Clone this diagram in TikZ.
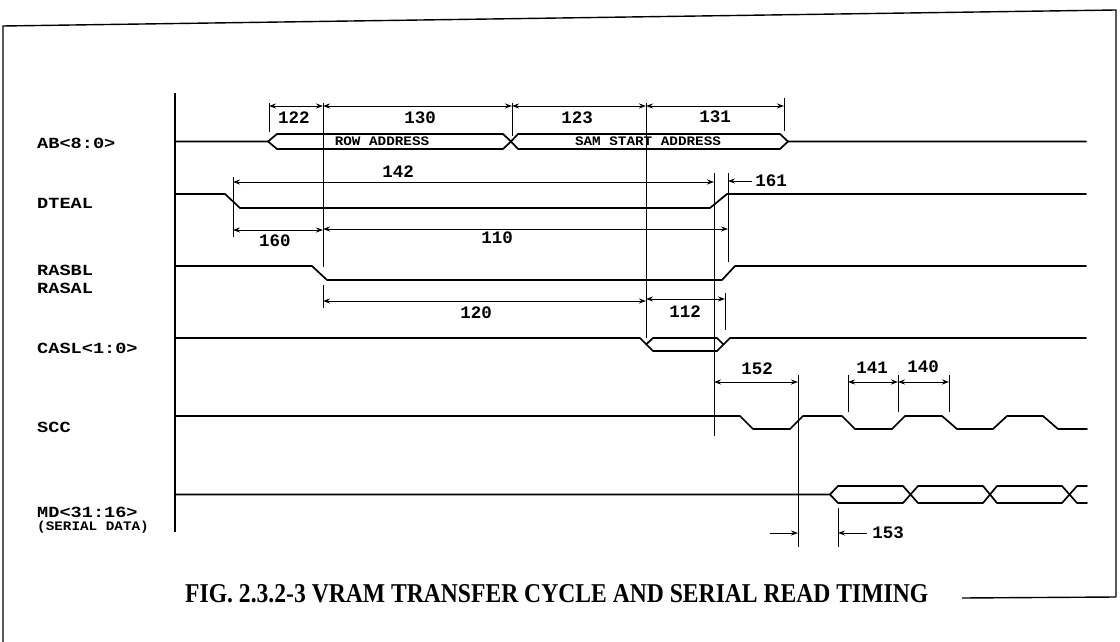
\documentclass[tikz,border=0pt]{standalone}
\usepackage{fontspec}
\usepackage{graphicx}
\usetikzlibrary{arrows.meta}
\setmainfont{Liberation Serif}
\newfontfamily\lblfont[FakeStretch=1.2]{Liberation Mono}
\newfontfamily\smlfont[FakeStretch=1.1]{Liberation Mono}
\newfontfamily\numfont{Liberation Mono}
\begin{document}
\begin{tikzpicture}[x=1pt,y=-1pt,
  sig/.style={line width=1.7pt,line join=round,line cap=round},
  tk/.style={line width=0.9pt},
  dimarr/.style={line width=0.9pt,{Stealth[length=7pt,width=5pt]}-{Stealth[length=7pt,width=5pt]}},
  onearr/.style={line width=0.9pt,-{Stealth[length=7pt,width=5pt]}},
  numtxt/.style={font=\numfont\bfseries\fontsize{17.5}{18}\selectfont,inner sep=0pt},
  lbltxt/.style={font=\lblfont\bfseries\fontsize{15.5}{16}\selectfont,inner sep=0pt,anchor=base west},
  smalltxt/.style={font=\smlfont\bfseries\fontsize{13}{13}\selectfont,inner sep=0pt},
  framestyle/.style={line width=1.4pt}]
\useasboundingbox (0,0) rectangle (1120,642);
% frame
\draw[framestyle] (3,642) -- (3,26) -- (1116,10) -- (1116,597);
\draw[framestyle] (962,598) -- (1116,597);
% axis
\draw[line width=1.3pt] (175,93) -- (175,532);
% signal labels
\node[lbltxt] (lab) at (37,148) {AB<8:0>};
\node[lbltxt] (ldt) at (37,208) {DTEAL};
\node[lbltxt] (lrb) at (37,275) {RASBL};
\node[lbltxt] (lra) at (37,293) {RASAL};
\node[lbltxt] (lca) at (37,353) {CASL<1:0>};
\node[lbltxt] (lsc) at (37,432) {SCC};
\node[lbltxt] (lmd) at (37,517) {MD<31:16>};
\node[smalltxt,anchor=base west] (lsd) at (37,530) {(SERIAL DATA)};
% AB bus
\draw[sig] (175,141.5) -- (268,141.5) -- (277,134) -- (503,134) -- (511,141.5) -- (518,134) -- (780,134) -- (788,141.5) -- (1086,141.5);
\draw[sig] (268,141.5) -- (277,149) -- (503,149) -- (511,141.5) -- (518,149) -- (780,149) -- (788,141.5);
\node[smalltxt] (row) at (382,141.5) {ROW ADDRESS};
\node[smalltxt] (sam) at (648,141) {SAM START ADDRESS};
% DTEAL
\draw[sig] (175,194) -- (225,194) -- (240,208) -- (710,208) -- (727,194) -- (1086,194);
% RASBL / RASAL
\draw[sig] (175,266) -- (312,266) -- (327,280) -- (722,280) -- (735,266) -- (1086,266);
% CASL
\draw[sig] (175,338) -- (640,338) -- (653,351) -- (717,351) -- (730,338) -- (1086,338);
\draw[sig] (646,344.5) -- (653,338) -- (717,338) -- (723.5,344.5);
% SCC
\draw[sig] (175,416) -- (740,416) -- (753,429) -- (790,429) -- (803,416) -- (842,416) -- (855,429) -- (892,429) -- (905,416) -- (942,416) -- (957,429) -- (993,429) -- (1007,416) -- (1043,416) -- (1058,429) -- (1087,429);
% MD
\draw[sig] (175,494.5) -- (830,494.5) -- (838,486) -- (903,486) -- (918,503) -- (983,503) -- (997,486) -- (1062,486) -- (1077,503) -- (1087,503);
\draw[sig] (830,494.5) -- (838,503) -- (903,503) -- (918,486) -- (983,486) -- (997,503) -- (1062,503) -- (1077,486) -- (1087,486);
% reference lines / ticks
\draw[tk] (269,103) -- (269,132);
\draw[tk] (323,103) -- (323,267);
\draw[tk] (512,103) -- (512,136);
\draw[tk] (646,103) -- (646,338);
\draw[tk] (784,98) -- (784,131);
\draw[tk] (233,177) -- (233,237);
\draw[tk] (714,173) -- (714,436);
\draw[tk] (728,173) -- (728,262);
\draw[tk] (323,285) -- (323,308);
\draw[tk] (725,293) -- (725,330);
\draw[tk] (798,375) -- (798,547);
\draw[tk] (848,375) -- (848,412);
\draw[tk] (898,375) -- (898,412);
\draw[tk] (949,375) -- (949,412);
\draw[tk] (838,508) -- (838,547);
% dimension arrows
\draw[dimarr] (269,106) -- (323,106);
\draw[dimarr] (323,106) -- (512,106);
\draw[dimarr] (512,106) -- (646,106);
\draw[dimarr] (646,106) -- (784,106);
\draw[dimarr] (233,182) -- (714,182);
\draw[onearr] (752,181) -- (728,181);
\draw[dimarr] (233,230) -- (323,230);
\draw[dimarr] (323,229) -- (728,229);
\draw[dimarr] (323,301) -- (646,301);
\draw[dimarr] (646,299) -- (725,299);
\draw[dimarr] (714,382) -- (798,382);
\draw[dimarr] (848,382) -- (898,382);
\draw[dimarr] (898,382) -- (949,382);
\draw[onearr] (770,533) -- (798,533);
\draw[onearr] (867,533) -- (838,533);
% numbers
\node[numtxt] (n122) at (294,118) {122};
\node[numtxt] (n130) at (420,118) {130};
\node[numtxt] (n123) at (577,118) {123};
\node[numtxt] (n131) at (715,117) {131};
\node[numtxt] (n142) at (398,172) {142};
\node[numtxt] (n161) at (771,181) {161};
\node[numtxt] (n160) at (275,241) {160};
\node[numtxt] (n110) at (497,238) {110};
\node[numtxt] (n120) at (476,313) {120};
\node[numtxt] (n112) at (685,312) {112};
\node[numtxt] (n152) at (757,369) {152};
\node[numtxt] (n141) at (872,368) {141};
\node[numtxt] (n140) at (923,367) {140};
\node[numtxt] (n153) at (888,533) {153};
% caption
\node[anchor=south west,inner sep=0pt] (cap) at (185,603) {\resizebox{743pt}{18pt}{\bfseries FIG. 2.3.2-3 VRAM TRANSFER CYCLE AND SERIAL READ TIMING}};
\end{tikzpicture}
\end{document}
